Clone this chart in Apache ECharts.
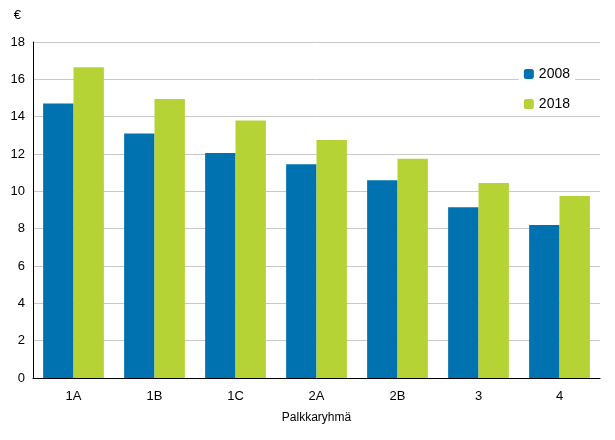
<!DOCTYPE html>
<html>
<head>
<meta charset="utf-8">
<script src="https://cdn.jsdelivr.net/npm/echarts@6/dist/echarts.min.js"></script>
</head>
<body style="margin:0">
<div id="chart" style="width:615px;height:440px"></div>
<script>
// palkkaryhmät ja arvot
var categories = ['1A', '1B', '1C', '2A', '2B', '3', '4'];
var values2008 = [14.7, 13.1, 12.05, 11.45, 10.6, 9.15, 8.2];
var values2018 = [16.65, 14.95, 13.8, 12.75, 11.75, 10.45, 9.75];
var yTicks = [0, 2, 4, 6, 8, 10, 12, 14, 16, 18];

var myChart = echarts.init(document.getElementById('chart'));
var option = {
    textStyle: {fontFamily: 'Arial, Liberation Sans, sans-serif'},
    grid: {left: 33, right: 15, top: 42, bottom: 62},
    legend: {
        orient: 'vertical',
        right: 40,
        top: 62,
        itemWidth: 10,
        itemHeight: 10,
        itemGap: 16,
        backgroundColor: '#fff',
        textStyle: {fontSize: 14, color: '#000'},
        data: ['2008', '2018']
    },
    xAxis: {
        type: 'category',
        data: categories,
        name: 'Palkkaryhmä',
        nameLocation: 'middle',
        nameGap: 34,
        nameTextStyle: {fontSize: 12, color: '#000'},
        axisTick: {show: false},
        axisLine: {lineStyle: {color: '#000'}},
        axisLabel: {fontSize: 13, color: '#000', margin: 12}
    },
    yAxis: {
        type: 'value',
        min: yTicks[0],
        max: yTicks[yTicks.length - 1],
        interval: 2,
        name: '€',
        nameGap: 20,
        nameTextStyle: {fontSize: 13, color: '#000', align: 'right', padding: [0, 12, 0, 0]},
        axisLine: {show: true, lineStyle: {color: '#000'}},
        axisTick: {show: false},
        axisLabel: {fontSize: 13, color: '#000'},
        splitLine: {lineStyle: {color: '#c8c8c8'}}
    },
    series: [
        {name: '2008', type: 'bar', data: values2008, barGap: '0%', barCategoryGap: '25%', itemStyle: {color: '#0072b0'}},
        {name: '2018', type: 'bar', data: values2018, itemStyle: {color: '#b5d334'}}
    ]
};
myChart.setOption(option, true);
</script>
</body>
</html>
